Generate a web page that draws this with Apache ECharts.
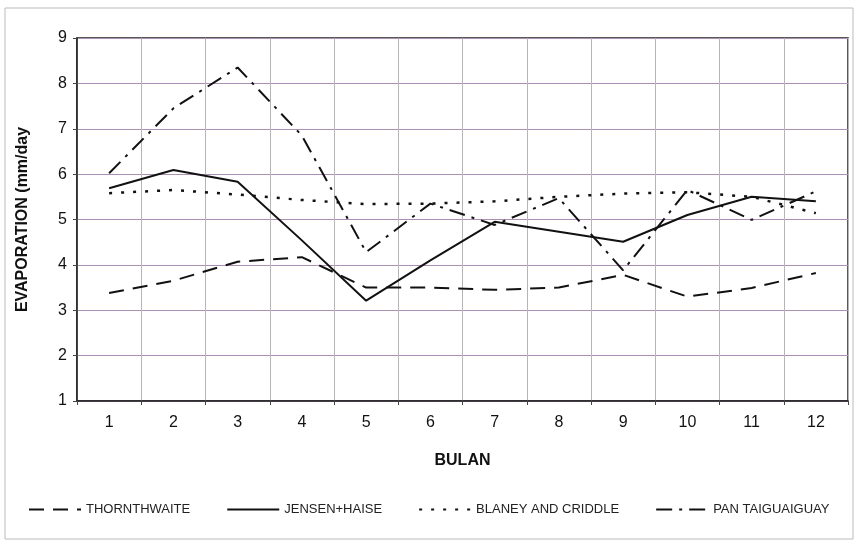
<!DOCTYPE html>
<html><head><meta charset="utf-8">
<script src="https://cdn.jsdelivr.net/npm/echarts@6/dist/echarts.min.js"></script>
<style>html,body{margin:0;padding:0;background:#fff}#c{width:856px;height:542px}</style>
</head><body><div id="c"></div>
<script>
const months = ['1','2','3','4','5','6','7','8','9','10','11','12'];
const thornthwaite = [3.38, 3.65, 4.07, 4.17, 3.5, 3.5, 3.45, 3.5, 3.78, 3.3, 3.49, 3.82];
const jensenHaise = [5.69, 6.09, 5.83, 4.54, 3.21, 4.1, 4.95, 4.73, 4.51, 5.1, 5.5, 5.4];
const blaneyCriddle = [5.58, 5.65, 5.55, 5.43, 5.34, 5.35, 5.4, 5.5, 5.57, 5.6, 5.5, 5.14];
const panTaiguaiguay = [6.02, 7.45, 8.35, 6.85, 4.28, 5.35, 4.88, 5.47, 3.88, 5.65, 4.99, 5.62];
const seriesNames = ['THORNTHWAITE', 'JENSEN+HAISE', 'BLANEY AND CRIDDLE', 'PAN TAIGUAIGUAY'];

const chart = echarts.init(document.getElementById('c'));
const mk = (name, data, type, w) => ({
  name, type: 'line', data, symbol: 'none', smooth: false,
  lineStyle: { color: '#111', width: w, type: type },
  itemStyle: { color: '#111' }
});
chart.setOption({
  animation: false,
  backgroundColor: '#fff',
  graphic: [{ type: 'rect', shape: { x: 5, y: 8, width: 848, height: 531 }, style: { fill: 'none', stroke: '#bbb', lineWidth: 1 } }],
  grid: { left: 77, right: 8, top: 38, bottom: 141, show: true, borderColor: '#222', borderWidth: 1.5 },
  legend: {
    bottom: 21, left: 23, width: 830, itemWidth: 52, itemHeight: 10, itemGap: 36,
    itemStyle: { opacity: 0 },
    textStyle: { fontFamily: 'Liberation Sans, Arial, sans-serif', fontSize: 13, color: '#222' },
    data: seriesNames
  },
  xAxis: {
    type: 'category', data: months, boundaryGap: true,
    name: 'BULAN', nameLocation: 'middle', nameGap: 52,
    nameTextStyle: { fontFamily: 'Liberation Sans, Arial, sans-serif', fontSize: 16, fontWeight: 'bold', color: '#111' },
    axisLine: { lineStyle: { color: '#222', width: 1.5 } },
    axisTick: { show: true, length: 4, lineStyle: { color: '#444' } },
    axisLabel: { fontFamily: 'Liberation Sans, Arial, sans-serif', fontSize: 16, color: '#111', margin: 14 },
    splitLine: { show: true, lineStyle: { color: '#b5b5b5', width: 1 } }
  },
  yAxis: {
    type: 'value', min: 1, max: 9, interval: 1,
    name: 'EVAPORATION (mm/day', nameLocation: 'middle', nameGap: 46,
    nameTextStyle: { fontFamily: 'Liberation Sans, Arial, sans-serif', fontSize: 16, fontWeight: 'bold', color: '#111' },
    axisLine: { show: true, lineStyle: { color: '#222', width: 1.5 } },
    axisTick: { show: true, length: 4, lineStyle: { color: '#444' } },
    axisLabel: { fontFamily: 'Liberation Sans, Arial, sans-serif', fontSize: 16, color: '#111', margin: 10 },
    splitLine: { show: true, lineStyle: { color: '#ad8fb3', width: 1 } }
  },
  series: [
    mk(seriesNames[0], thornthwaite, [15, 9], 2),
    mk(seriesNames[1], jensenHaise, 'solid', 2),
    mk(seriesNames[2], blaneyCriddle, [3, 9], 2.5),
    mk(seriesNames[3], panTaiguaiguay, [16, 7, 3, 7], 2)
  ]
});
</script></body></html>
